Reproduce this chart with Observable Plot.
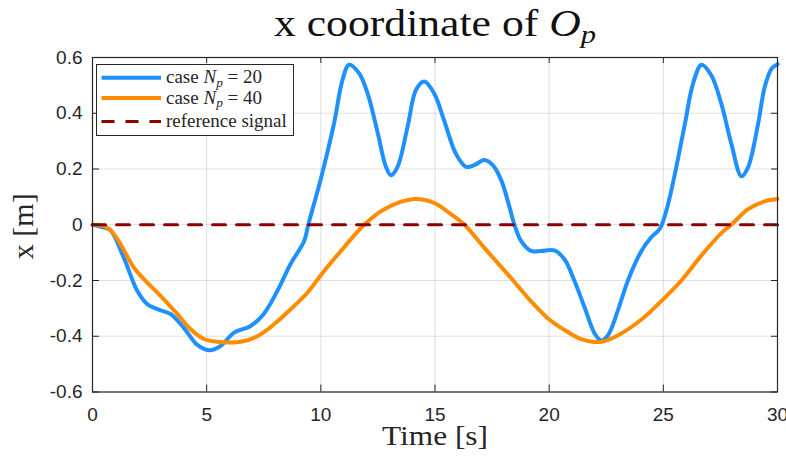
<!DOCTYPE html>
<html><head><meta charset="utf-8">
<script src="https://cdn.jsdelivr.net/npm/d3@7"></script>
<script src="https://cdn.jsdelivr.net/npm/@observablehq/plot@0.6"></script>
<style>
html,body{margin:0;padding:0;background:#fff;}
#chart{width:786px;height:461px;}
</style></head><body><div id="chart"></div>
<script>
// ---- data ----
const time20 = [0,0.5,0.79,1.37,1.96,2.4,2.84,3.42,4.0,4.58,5.1,5.61,6.2,6.93,7.5,8.1,8.68,9.27,9.45,10.0,10.58,10.95,11.24,11.68,12.05,12.49,12.85,13.07,13.36,13.8,14.17,14.53,14.97,15.4,15.92,16.36,16.72,17.16,17.53,17.9,18.26,18.48,18.77,19.2,19.65,20.23,20.67,21.1,21.55,21.99,22.28,22.57,23.01,23.45,24.04,24.47,24.84,25.13,25.5,25.94,26.3,26.67,27.1,27.54,27.98,28.42,28.71,29.15,29.44,29.74,30];
const x20 = [0,-0.01,-0.02,-0.118,-0.237,-0.285,-0.303,-0.32,-0.37,-0.43,-0.45,-0.435,-0.387,-0.363,-0.32,-0.237,-0.14,-0.058,0,0.165,0.364,0.52,0.574,0.543,0.47,0.33,0.208,0.178,0.208,0.352,0.484,0.514,0.47,0.374,0.254,0.208,0.214,0.232,0.214,0.16,0.064,0,-0.058,-0.094,-0.094,-0.092,-0.124,-0.2,-0.296,-0.39,-0.415,-0.397,-0.307,-0.2,-0.094,-0.045,-0.015,0.05,0.18,0.36,0.506,0.574,0.536,0.434,0.29,0.174,0.206,0.362,0.494,0.56,0.576];
const time40 = [0,0.5,0.79,1.23,1.81,2.25,2.98,3.71,4.3,4.88,5.47,6.0,6.49,7.22,7.95,8.68,9.42,10.15,10.88,11.9,12.78,14.1,14.97,15.7,16.29,17.16,18.19,19.2,20.0,20.53,21.4,22.28,23.16,24.04,24.91,25.79,26.67,27.54,27.98,28.71,29.44,30];
const x40 = [0,-0.005,-0.02,-0.07,-0.154,-0.195,-0.255,-0.32,-0.375,-0.41,-0.42,-0.422,-0.42,-0.4,-0.357,-0.303,-0.243,-0.165,-0.094,0,0.056,0.092,0.078,0.038,0,-0.083,-0.178,-0.274,-0.34,-0.37,-0.41,-0.42,-0.39,-0.34,-0.274,-0.2,-0.11,-0.03,0,0.056,0.084,0.092];
const refTime = [0, 30];
const refX = [0, 0];
const xTicks = [0,5,10,15,20,25,30];
const xTickLabels = ["0","5","10","15","20","25","30"];
const yTicks = [-0.6,-0.4,-0.2,0,0.2,0.4,0.6];
const yTickLabels = ["-0.6","-0.4","-0.2","0","0.2","0.4","0.6"];
const titleText = "x coordinate of Op";
const xLabel = "Time [s]";
const yLabel = "x [m]";
const legendNp = ["20", "40"];
const legendRef = "reference signal";

// ---- layout / style ----
const W = 786, H = 461, mL = 92, mR = 9, mT = 57, mB = 69.5;
const frameW = W - mL - mR, frameH = H - mT - mB;
const ink = "#262626";
const serif = "'Liberation Serif', 'Times New Roman', serif";
const cBlue = "#1e90ff", cOrange = "#ff8c00", cRef = "#8b0000";

const d20 = time20.map((t, i) => ({t, v: x20[i]}));
const d40 = time40.map((t, i) => ({t, v: x40[i]}));
const dRef = refTime.map((t, i) => ({t, v: refX[i]}));

const chart = Plot.plot({
  width: W, height: H,
  marginLeft: mL, marginRight: mR, marginTop: mT, marginBottom: mB,
  style: {fontFamily: "'Liberation Sans', Arial, sans-serif", color: ink, background: "#fff", overflow: "visible"},
  x: {domain: [0, 30]},
  y: {domain: [-0.6, 0.6]},
  marks: [
    Plot.gridX(xTicks, {stroke: ink, strokeOpacity: 0.15, strokeWidth: 1}),
    Plot.gridY(yTicks, {stroke: ink, strokeOpacity: 0.15, strokeWidth: 1}),
    Plot.line(d20, {x: "t", y: "v", stroke: cBlue, strokeWidth: 4, curve: "catmull-rom"}),
    Plot.line(d40, {x: "t", y: "v", stroke: cOrange, strokeWidth: 4, curve: "catmull-rom"}),
    Plot.line(dRef, {x: "t", y: "v", stroke: cRef, strokeWidth: 3, strokeDasharray: "13,11"}),
    Plot.tickX(xTicks, {x: d => d, insetTop: frameH - 7, stroke: ink}),
    Plot.tickX(xTicks, {x: d => d, insetBottom: frameH - 6, stroke: ink}),
    Plot.tickY(yTicks, {y: d => d, insetRight: frameW - 7, stroke: ink}),
    Plot.tickY(yTicks, {y: d => d, insetLeft: frameW - 6, stroke: ink}),
    Plot.frame({stroke: ink, strokeWidth: 1.2}),
    Plot.axisX(xTicks, {tickSize: 0, tickPadding: 15, tickFormat: d => xTickLabels[xTicks.indexOf(d)], fontSize: 19, label: null}),
    Plot.axisY(yTicks, {tickSize: 0, tickPadding: 10, tickFormat: d => yTickLabels[yTicks.indexOf(d)], fontSize: 19, label: null}),
    Plot.text([titleText], {frameAnchor: "top", dy: -22, lineAnchor: "bottom", fontFamily: serif, fontSize: 37, fill: "#111"}),
    Plot.text([xLabel], {frameAnchor: "bottom", dy: 52.8, lineAnchor: "bottom", fontFamily: serif, fontSize: 28, fill: ink}),
    Plot.text([yLabel], {frameAnchor: "left", textAnchor: "middle", dx: -59.5, dy: 1.5, rotate: -90, lineAnchor: "bottom", fontFamily: serif, fontSize: 30, fill: ink})
  ]
});

const svg = d3.select(chart);
// title with math-style O_p
svg.selectAll("text").filter(function () { return this.textContent === titleText; }).each(function () {
  const t = d3.select(this);
  t.text(null);
  t.append("tspan").text("x coordinate of ");
  t.append("tspan").attr("font-style", "italic").text("O");
  t.append("tspan").attr("font-style", "italic").attr("font-size", "0.7em").attr("dy", "0.3em").text("p");
  t.attr("textLength", 322).attr("lengthAdjust", "spacingAndGlyphs");
});
svg.selectAll("text").filter(function () { return this.textContent === xLabel; })
  .attr("textLength", 106).attr("lengthAdjust", "spacingAndGlyphs");

// legend box (top-left inside the axes)
const lg = svg.append("g").attr("font-family", serif).attr("font-size", 19).attr("fill", ink).attr("text-anchor", "start");
lg.append("rect").attr("x", 96.5).attr("y", 64.5).attr("width", 197).attr("height", 71)
  .attr("fill", "#fff").attr("stroke", ink).attr("stroke-width", 1);
const entries = [
  {color: cBlue, dash: null, width: 4, ly: 77.7, by: 83, np: legendNp[0]},
  {color: cOrange, dash: null, width: 4, ly: 98, by: 103.5, np: legendNp[1]},
  {color: cRef, dash: "13,11", width: 3, ly: 121.5, by: 127, np: null}
];
for (const e of entries) {
  lg.append("line").attr("x1", 101.5).attr("x2", 161).attr("y1", e.ly).attr("y2", e.ly)
    .attr("stroke", e.color).attr("stroke-width", e.width).attr("stroke-dasharray", e.dash);
  const t = lg.append("text").attr("x", 166).attr("y", e.by);
  if (e.np) {
    t.append("tspan").text("case ");
    t.append("tspan").attr("font-style", "italic").text("N");
    t.append("tspan").attr("font-style", "italic").attr("font-size", "0.7em").attr("dy", "0.3em").text("p");
    t.append("tspan").attr("dy", "-0.21em").text(" = " + e.np);
  } else {
    t.text(legendRef);
  }
}

document.getElementById("chart").appendChild(chart);
</script>
</body></html>
